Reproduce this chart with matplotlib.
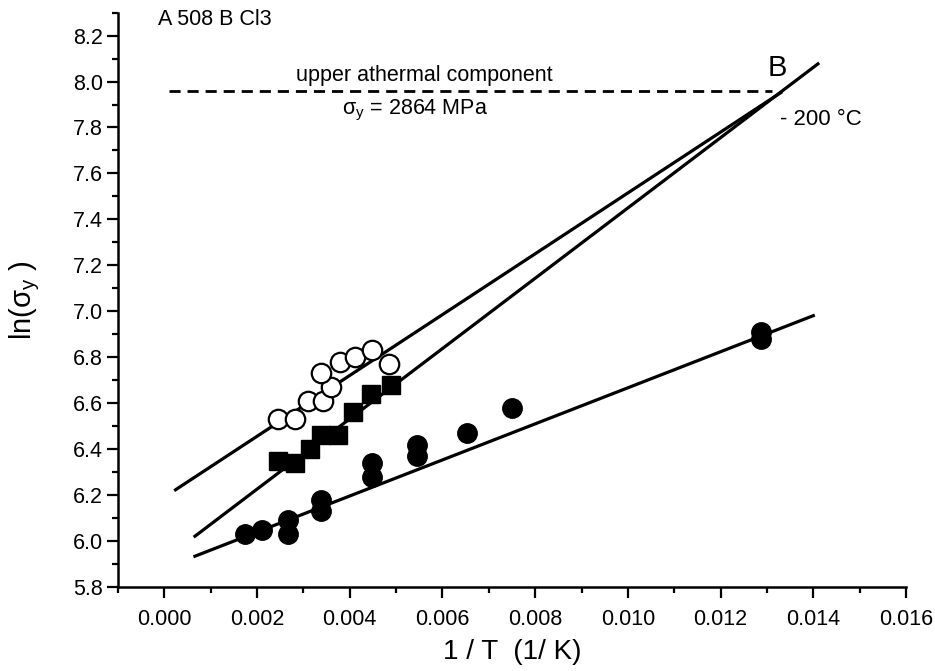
import numpy as np
import matplotlib.pyplot as plt
from matplotlib.ticker import MultipleLocator, FormatStrFormatter

plt.rcParams['font.family'] = ['Liberation Sans', 'DejaVu Sans']
plt.rcParams['mathtext.fontset'] = 'custom'
plt.rcParams['mathtext.rm'] = 'Liberation Sans'
plt.rcParams['mathtext.it'] = 'Liberation Sans'
plt.rcParams['mathtext.default'] = 'regular'

# open circles
open_x = [0.00246, 0.00281, 0.00310, 0.00342, 0.00360, 0.00339, 0.00378, 0.00412, 0.00448, 0.00485]
open_y = [6.53, 6.53, 6.61, 6.61, 6.67, 6.73, 6.78, 6.80, 6.83, 6.77]

# filled squares
sq_x = [0.00245, 0.00281, 0.00314, 0.00339, 0.00375, 0.00408, 0.00445, 0.00490]
sq_y = [6.35, 6.34, 6.40, 6.46, 6.46, 6.56, 6.64, 6.68]

# filled circles
dot_x = [0.00174, 0.00211, 0.00266, 0.00266, 0.00338, 0.00337, 0.00447, 0.00447,
         0.00545, 0.00545, 0.00653, 0.00751, 0.01287, 0.01287]
dot_y = [6.03, 6.05, 6.09, 6.03, 6.18, 6.13, 6.34, 6.28,
         6.42, 6.37, 6.47, 6.58, 6.88, 6.91]

# fitted lines (end points)
open_fit_x = [0.00024, 0.0133]
open_fit_y = [6.223, 7.952]
sq_fit_x = [0.00066, 0.0141]
sq_fit_y = [6.021, 8.077]
dot_fit_x = [0.00066, 0.0140]
dot_fit_y = [5.934, 6.981]

# upper athermal component
athermal_x = [0.0001, 0.0131]
athermal_y = [7.96, 7.96]

fig = plt.figure(figsize=(9.35, 6.71), dpi=100)
ax = fig.add_axes([0.1262, 0.1252, 0.8428, 0.856])

lw = 2.3
ax.plot(open_fit_x, open_fit_y, color='black', lw=lw)
ax.plot(sq_fit_x, sq_fit_y, color='black', lw=lw)
ax.plot(dot_fit_x, dot_fit_y, color='black', lw=lw)
ax.plot(athermal_x, athermal_y, color='black', lw=2.0, ls=(0, (4, 2.5)))

ax.plot(open_x, open_y, 'o', ms=14, mfc='white', mec='black', mew=1.6, ls='none')
ax.plot(sq_x, sq_y, 's', ms=13, color='black', ls='none')
ax.plot(dot_x, dot_y, 'o', ms=14, color='black', ls='none')

ax.set_xlim(-0.001, 0.016)
ax.set_ylim(5.8, 8.3)

ax.xaxis.set_major_locator(MultipleLocator(0.002))
ax.xaxis.set_minor_locator(MultipleLocator(0.001))
ax.yaxis.set_major_locator(MultipleLocator(0.2))
ax.yaxis.set_minor_locator(MultipleLocator(0.1))
ax.xaxis.set_major_formatter(FormatStrFormatter('%.3f'))
ax.yaxis.set_major_formatter(FormatStrFormatter('%.1f'))

ax.spines['top'].set_visible(False)
ax.spines['right'].set_visible(False)
ax.spines['left'].set_linewidth(1.8)
ax.spines['bottom'].set_linewidth(1.8)
ax.tick_params(axis='both', which='major', direction='out', length=8, width=1.6, labelsize=15.5)
ax.tick_params(axis='both', which='minor', direction='out', length=4.5, width=1.6)
ax.tick_params(axis='x', which='major', pad=8)
ax.tick_params(axis='y', which='major', pad=3)

ax.set_xlabel('1 / T  (1/ K)', fontsize=20)
ax.set_ylabel(r'ln($\sigma_y$ )', fontsize=21)
ax.xaxis.set_label_coords(0.5, -0.09)
ax.yaxis.set_label_coords(-0.097, 0.5)

ax.text(-0.00013, 8.268, 'A 508 B Cl3', fontsize=15.5, ha='left', va='center')
ax.text(0.0056, 8.025, 'upper athermal component', fontsize=15.5, ha='center', va='center')
ax.text(0.00383, 7.873, r'$\sigma_y$ = 2864 MPa', fontsize=15.5, ha='left', va='center')
ax.text(0.01322, 8.06, 'B', fontsize=21, ha='center', va='center')
ax.text(0.01328, 7.836, '- 200 °C', fontsize=16, ha='left', va='center')

fig.savefig('out.png', dpi=100)
